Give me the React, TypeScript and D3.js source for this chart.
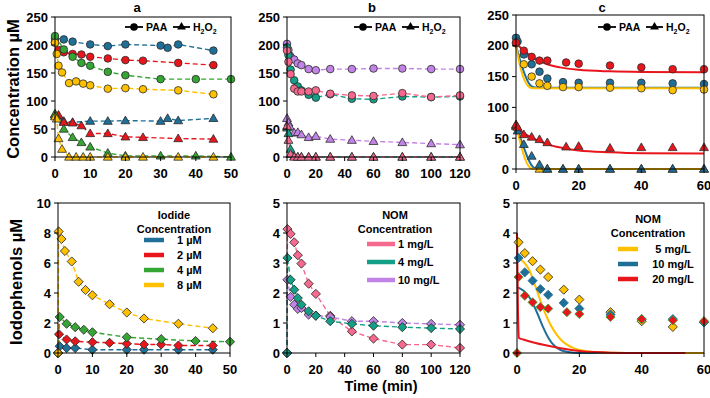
import React from "react";
import * as d3 from "d3";

type Pt = [number, number];

// ---------- Panel a (top): PAA / H2O2 at different iodide doses ----------
const aPaa1: Pt[] = [[0, 212], [2.5, 210], [5, 206], [10, 201], [15, 198], [20, 201], [30, 199], [32, 195], [35, 201], [45, 190]];
const aPaa2: Pt[] = [[0, 205], [1, 191], [2.5, 187], [5, 184], [7.5, 183], [10, 179], [15, 176], [20, 173], [25, 172], [35, 168], [45, 164]];
const aPaa4: Pt[] = [[0, 216], [2.5, 192], [5, 179], [7.5, 168], [10, 163], [15, 152], [20, 146], [30, 139], [40, 139], [50, 139]];
const aPaa8: Pt[] = [[0, 204], [0.5, 184], [1, 163], [2, 151], [4, 132], [6, 135], [8, 131], [10, 128], [15, 122], [20, 123], [25, 121], [35, 119], [45, 112]];
const aH1: Pt[] = [[0, 75], [1, 73], [2.5, 64], [5, 62], [10, 64], [15, 64], [20, 65], [30, 64], [32, 69], [35, 65], [45, 69]];
const aH2: Pt[] = [[0, 76], [1, 75], [2.5, 62], [5, 61], [7.5, 56], [10, 42], [15, 42], [20, 36], [25, 35], [35, 33], [45, 32]];
const aH4: Pt[] = [[0, 77], [2.5, 50], [5, 35], [7.5, 26], [10, 18], [15, 7], [20, 2], [30, 2], [40, 2], [50, 0]];
const aH8: Pt[] = [[0, 72], [0.5, 68], [1, 33], [2, 14], [4, 0], [6, 0], [8, 0], [10, 0], [15, 0], [20, 0], [25, 0], [35, 0], [45, 0]];

// ---------- Panel b (top): PAA / H2O2 at different NOM levels ----------
const bPaa1: Pt[] = [[0, 190], [1, 170], [2.5, 148], [5, 122], [7.5, 117], [10, 117], [15, 117], [20, 119], [30, 113], [45, 110], [60, 109], [80, 114], [100, 107], [120, 110]];
const bPaa4: Pt[] = [[0, 196], [1, 182], [2.5, 156], [5, 137], [7.5, 126], [10, 119], [15, 111], [20, 106], [30, 112], [45, 104], [60, 103], [80, 108], [100, 107], [120, 108]];
const bPaa10: Pt[] = [[0, 202], [1, 191], [2, 181], [3, 177], [5, 174], [7.5, 167], [10, 164], [15, 157], [20, 155], [30, 157], [45, 157], [60, 158], [80, 158], [100, 157], [120, 157]];
const bH1: Pt[] = [[0, 55], [1, 30], [2.5, 5], [5, 0], [7.5, 0], [10, 0], [15, 0], [20, 0], [30, 0], [45, 0], [60, 0], [80, 0], [100, 0], [120, 0]];
const bH4: Pt[] = [[0, 52], [1, 42], [2.5, 14], [5, 1], [7.5, 0], [10, 0], [15, 0], [20, 0], [30, 0], [45, 0], [60, 0], [80, 0], [100, 0], [120, 0]];
const bH10: Pt[] = [[0, 69], [1, 61], [2, 54], [5, 43], [7.5, 44], [10, 40], [15, 35], [20, 37], [30, 32], [45, 30], [60, 28], [80, 26], [100, 24], [120, 22]];

// ---------- Panel c (top): measured points and model curves ----------
const cPaa5: Pt[] = [[0, 204], [2.5, 170], [5, 150], [7.5, 139], [10, 135], [15, 133], [20, 133], [30, 132], [40, 131], [50, 128], [60, 129]];
const cPaa10: Pt[] = [[0, 213], [0.5, 207], [2.5, 186], [5, 170], [7.5, 158], [10, 147], [15, 141], [20, 140], [30, 140], [40, 140], [50, 139], [60, 138]];
const cPaa20: Pt[] = [[0, 205], [2.5, 192], [5, 182], [7.5, 176], [10, 176], [16, 173], [20, 171], [30, 168], [40, 165], [50, 162], [60, 162]];
const cH5: Pt[] = [[0, 69], [7.5, 0], [10, 0], [15, 0], [20, 0], [30, 0], [40, 0], [50, 0], [60, 0]];
const cH10: Pt[] = [[0, 71], [0.5, 62], [2.5, 40], [5, 21], [7.5, 7], [10, 0], [15, 0], [20, 0], [30, 0], [40, 0], [50, 0], [60, 0]];
const cH20: Pt[] = [[0, 72], [0.5, 68], [2.5, 56], [5, 52], [7.5, 48], [10, 43], [16, 36], [20, 37], [30, 34], [40, 35], [50, 35], [60, 35]];
const cFitPaa5: Pt[] = [[0, 200], [1, 174], [2, 154], [3, 141], [4, 134], [5, 131.5], [6, 131], [60, 131]];
const cFitPaa10: Pt[] = [[0, 200], [1, 182], [2, 165], [3, 151], [4, 140], [5, 134], [6, 132.5], [8, 132], [60, 132]];
const cFitPaa20: Pt[] = [[0, 205], [2, 194], [4, 186], [6, 179], [8, 174], [10, 170], [14, 165], [20, 161], [30, 158.5], [40, 157.5], [60, 157]];
const cFitH5: Pt[] = [[0, 70], [1, 50], [2, 31], [3, 15], [4, 5], [5, 0.5], [6, 0], [60, 0]];
const cFitH10: Pt[] = [[0, 70], [1, 56], [2, 42], [3, 28], [4, 15], [5, 6], [6, 1], [7, 0], [60, 0]];
const cFitH20: Pt[] = [[0, 72], [2, 60], [5, 51], [8, 44], [10, 40], [15, 34], [20, 30], [30, 27], [40, 25.5], [60, 25]];

// ---------- Lower row: iodophenols ----------
const dI1: Pt[] = [[0, 0], [0.5, 0.45], [2.5, 0.33], [5, 0.33], [10, 0.22], [20, 0.22], [25, 0.22], [35, 0.22], [45, 0.22]];
const dI2: Pt[] = [[0, 0], [0.3, 1.25], [2.5, 0.9], [5, 0.78], [10, 0.72], [15, 0.68], [20, 0.62], [25, 0.57], [30, 0.57], [35, 0.5], [45, 0.5]];
const dI4: Pt[] = [[0, 0], [0.5, 2.4], [2.5, 1.95], [5, 1.72], [7.5, 1.55], [10, 1.38], [20, 1.05], [30, 0.92], [40, 0.8], [50, 0.75]];
const dI8: Pt[] = [[0, 0], [0.2, 8.1], [1, 7.6], [2, 6.8], [4, 6.1], [6, 4.75], [8, 4.2], [10, 3.85], [15, 3.25], [20, 2.7], [25, 2.3], [35, 1.95], [45, 1.65]];

const eN1: Pt[] = [[0, 0], [0.3, 4.13], [2.5, 3.97], [5, 3.69], [7.5, 3.26], [10, 2.98], [15, 2.31], [20, 1.97], [30, 1.24], [45, 0.72], [60, 0.48], [80, 0.28], [100, 0.28], [120, 0.17]];
const eN4: Pt[] = [[0, 0], [0.3, 3.17], [2.5, 2.44], [5, 2.11], [7.5, 1.83], [10, 1.61], [15, 1.39], [20, 1.24], [30, 1.06], [45, 0.97], [60, 0.91], [80, 0.86], [100, 0.83], [120, 0.8]];
const eN10: Pt[] = [[0, 0], [0.3, 2.44], [2.5, 1.87], [5, 1.61], [7.5, 1.47], [10, 1.5], [15, 1.28], [20, 1.25], [30, 1.2], [45, 1.06], [60, 1.06], [80, 1.0], [100, 0.97], [120, 0.94]];

const fN5: Pt[] = [[0.5, 3.69], [2.5, 3.33], [5, 3.06], [7.5, 2.78], [10, 2.53], [15, 2.11], [20, 1.78], [30, 1.36], [40, 1.06], [50, 0.87], [60, 1.02]];
const fN10: Pt[] = [[0.5, 3.17], [2.5, 2.69], [5, 2.41], [7.5, 2.13], [10, 1.94], [15, 1.67], [20, 1.48], [30, 1.28], [40, 1.13], [50, 1.13], [60, 1.02]];
const fN20: Pt[] = [[0, 0], [0.5, 2.53], [2.5, 1.91], [5, 1.69], [7.5, 1.53], [10, 1.48], [16, 1.36], [20, 1.3], [30, 1.2], [40, 1.13], [50, 1.09], [60, 1.06]];
const fFit5: Pt[] = [[0, 3.15], [2, 3.05], [4, 2.75], [6, 2.2], [8, 1.6], [10, 1.1], [12, 0.72], [14, 0.45], [16, 0.28], [18, 0.17], [20, 0.1], [25, 0.03], [30, 0.01], [40, 0], [60, 0]];
const fFit10: Pt[] = [[0, 2.2], [2, 2.08], [4, 1.85], [6, 1.45], [8, 0.95], [10, 0.52], [12, 0.24], [14, 0.1], [16, 0.04], [20, 0], [60, 0]];
const fFit20: Pt[] = [[0, 4.0], [0.3, 1.5], [0.6, 0.5], [2, 0.45], [5, 0.36], [10, 0.24], [15, 0.14], [20, 0.07], [25, 0.03], [30, 0.01], [40, 0], [54, 0]];

// ---------- Tick values and legend labels ----------
const concTicks = [0, 50, 100, 150, 200, 250];
const iodoTicksA = [0, 2, 4, 6, 8, 10];
const iodoTicksBC = [0, 1, 2, 3, 4, 5];
const timeTicks50 = [0, 10, 20, 30, 40, 50];
const timeTicks120 = [0, 20, 40, 60, 80, 100, 120];
const timeTicks60 = [0, 20, 40, 60];
const iodideLabels = ["1 µM", "2 µM", "4 µM", "8 µM"];
const nomLabelsB = ["1 mg/L", "4 mg/L", "10 mg/L"];
const nomLabelsC = ["5 mg/L", "10 mg/L", "20 mg/L"];

const BLUE = "#1f6f98";
const RED = "#e8161c";
const GREEN = "#35a534";
const GOLD = "#ffc000";
const PINK = "#f6698f";
const TEAL = "#13a086";
const PURPLE = "#c283e6";
const EDGE = "#2b2b2b";
const FONT = "'Liberation Sans', Arial, sans-serif";

type Shape = "circle" | "triangle" | "diamond";
interface Series {
  pts: Pt[];
  color: string;
  shape: Shape;
  dashed?: boolean;
  edge?: string;
}
interface PanelSpec {
  left: number;
  right: number;
  top: number;
  bottom: number;
  xDomain: [number, number];
  yDomain: [number, number];
  xTicks: number[];
  yTicks: number[];
  curves: { pts: Pt[]; color: string }[];
  series: Series[];
}

const triPath = d3.symbol(d3.symbolTriangle, 34)() as string;
const diaPath = d3.symbol(d3.symbolSquare, 42)() as string;

function Marker({ shape, cx, cy, fill, edge }: { shape: Shape; cx: number; cy: number; fill: string; edge: string }) {
  if (shape === "circle") return <circle cx={cx} cy={cy} r={3.8} fill={fill} stroke={edge} strokeWidth={0.8} />;
  if (shape === "triangle")
    return <path d={triPath} transform={`translate(${cx},${cy + 0.6})`} fill={fill} stroke={edge} strokeWidth={0.8} />;
  return <path d={diaPath} transform={`translate(${cx},${cy}) rotate(45)`} fill={fill} stroke={edge} strokeWidth={0.8} />;
}

function Panel({ spec }: { spec: PanelSpec }) {
  const x = d3.scaleLinear().domain(spec.xDomain).range([spec.left, spec.right]);
  const y = d3.scaleLinear().domain(spec.yDomain).range([spec.bottom, spec.top]);
  const straight = d3.line<Pt>().x((d) => x(d[0])).y((d) => y(d[1]));
  const smooth = d3.line<Pt>().x((d) => x(d[0])).y((d) => y(d[1])).curve(d3.curveMonotoneX);
  return (
    <g>
      {spec.series.filter((s) => s.dashed).map((s, i) => (
        <path key={"l" + i} d={straight(s.pts) as string} fill="none" stroke={s.color} strokeWidth={1.4} strokeDasharray="5,3" />
      ))}
      {spec.curves.map((c, i) => (
        <path key={"c" + i} d={smooth(c.pts) as string} fill="none" stroke={c.color} strokeWidth={2} />
      ))}
      {spec.series.map((s, i) =>
        s.pts.map((p, j) => (
          <Marker key={`m${i}-${j}`} shape={s.shape} cx={x(p[0])} cy={y(p[1])} fill={s.color} edge={s.edge ?? EDGE} />
        ))
      )}
      <rect x={spec.left} y={spec.top} width={spec.right - spec.left} height={spec.bottom - spec.top} fill="none" stroke="#000" strokeWidth={1} />
      {spec.xTicks.map((t) => (
        <g key={"x" + t}>
          <line x1={x(t)} x2={x(t)} y1={spec.bottom} y2={spec.bottom + 4} stroke="#000" />
          <text x={x(t)} y={spec.bottom + 21} textAnchor="middle" fontSize={13} fontWeight="bold">{t}</text>
        </g>
      ))}
      {spec.yTicks.map((t) => (
        <g key={"y" + t}>
          <line x1={spec.left - 4} x2={spec.left} y1={y(t)} y2={y(t)} stroke="#000" />
          <text x={spec.left - 7} y={y(t)} dy="0.36em" textAnchor="end" fontSize={13} fontWeight="bold">{t}</text>
        </g>
      ))}
    </g>
  );
}

function SpeciesLegend({ right }: { right: number }) {
  const yy = 27;
  return (
    <g fontSize={10.5} fontWeight="bold">
      <line x1={right - 106} x2={right - 88} y1={yy} y2={yy} stroke="#000" strokeWidth={1.8} />
      <circle cx={right - 97} cy={yy} r={3.8} fill="#000" />
      <text x={right - 85} y={yy} dy="0.36em">PAA</text>
      <line x1={right - 58} x2={right - 41} y1={yy} y2={yy} stroke="#000" strokeWidth={1.8} />
      <path d={triPath} transform={`translate(${right - 49.5},${yy})`} fill="#000" />
      <text x={right - 38} y={yy} dy="0.36em">
        H<tspan fontSize={7} dy={3}>2</tspan>
        <tspan dy={-3}>O</tspan>
        <tspan fontSize={7} dy={3}>2</tspan>
      </text>
    </g>
  );
}

function DoseLegend({ title, cx, ty, x1, x2, tx, anchor, rows, labels, colors }: {
  title: string; cx: number; ty: number; x1: number; x2: number; tx: number; anchor: "start" | "middle";
  rows: number[]; labels: string[]; colors: string[];
}) {
  return (
    <g fontSize={11} fontWeight="bold">
      <text x={cx} y={ty} textAnchor="middle">{title}</text>
      <text x={cx} y={ty + 13.5} textAnchor="middle">Concentration</text>
      {labels.map((l, i) => (
        <g key={l}>
          <line x1={x1} x2={x2} y1={rows[i]} y2={rows[i]} stroke={colors[i]} strokeWidth={4.5} />
          <text x={tx} y={rows[i]} dy="0.36em" textAnchor={anchor}>{l}</text>
        </g>
      ))}
    </g>
  );
}

const panels: PanelSpec[] = [
  {
    left: 55, right: 231, top: 17, bottom: 157, xDomain: [0, 50], yDomain: [0, 250],
    xTicks: timeTicks50, yTicks: concTicks, curves: [],
    series: [
      { pts: aPaa1, color: BLUE, shape: "circle", dashed: true },
      { pts: aPaa2, color: RED, shape: "circle", dashed: true },
      { pts: aPaa4, color: GREEN, shape: "circle", dashed: true },
      { pts: aPaa8, color: GOLD, shape: "circle", dashed: true },
      { pts: aH1, color: BLUE, shape: "triangle", dashed: true },
      { pts: aH2, color: RED, shape: "triangle", dashed: true },
      { pts: aH4, color: GREEN, shape: "triangle", dashed: true },
      { pts: aH8, color: GOLD, shape: "triangle", dashed: true },
    ],
  },
  {
    left: 287, right: 460, top: 17, bottom: 157, xDomain: [0, 120], yDomain: [0, 250],
    xTicks: timeTicks120, yTicks: concTicks, curves: [],
    series: [
      { pts: bPaa10, color: PURPLE, shape: "circle", dashed: true },
      { pts: bPaa4, color: TEAL, shape: "circle", dashed: true },
      { pts: bPaa1, color: PINK, shape: "circle", dashed: true },
      { pts: bH10, color: PURPLE, shape: "triangle", dashed: true },
      { pts: bH4, color: TEAL, shape: "triangle", dashed: true },
      { pts: bH1, color: PINK, shape: "triangle", dashed: true },
    ],
  },
  {
    left: 516, right: 704, top: 15, bottom: 169, xDomain: [0, 60], yDomain: [0, 250],
    xTicks: timeTicks60, yTicks: concTicks,
    curves: [
      { pts: cFitPaa10, color: BLUE }, { pts: cFitPaa5, color: GOLD }, { pts: cFitPaa20, color: RED },
      { pts: cFitH10, color: BLUE }, { pts: cFitH5, color: GOLD }, { pts: cFitH20, color: RED },
    ],
    series: [
      { pts: cPaa10, color: BLUE, shape: "circle" },
      { pts: cPaa5, color: GOLD, shape: "circle" },
      { pts: cPaa20, color: RED, shape: "circle" },
      { pts: cH5, color: GOLD, shape: "triangle" },
      { pts: cH10, color: BLUE, shape: "triangle" },
      { pts: cH20, color: RED, shape: "triangle" },
    ],
  },
  {
    left: 58, right: 230, top: 203, bottom: 353, xDomain: [0, 50], yDomain: [0, 10],
    xTicks: timeTicks50, yTicks: iodoTicksA, curves: [],
    series: [
      { pts: dI1, color: BLUE, shape: "diamond", dashed: true },
      { pts: dI2, color: RED, shape: "diamond", dashed: true },
      { pts: dI4, color: GREEN, shape: "diamond", dashed: true },
      { pts: dI8, color: GOLD, shape: "diamond", dashed: true },
    ],
  },
  {
    left: 287, right: 460, top: 203, bottom: 353, xDomain: [0, 120], yDomain: [0, 5],
    xTicks: timeTicks120, yTicks: iodoTicksBC, curves: [],
    series: [
      { pts: eN1, color: PINK, shape: "diamond", dashed: true },
      { pts: eN10, color: PURPLE, shape: "diamond", dashed: true },
      { pts: eN4, color: TEAL, shape: "diamond", dashed: true },
    ],
  },
  {
    left: 517, right: 704, top: 203, bottom: 353, xDomain: [0, 60], yDomain: [0, 5],
    xTicks: timeTicks60, yTicks: iodoTicksBC,
    curves: [{ pts: fFit10, color: BLUE }, { pts: fFit5, color: GOLD }, { pts: fFit20, color: RED }],
    series: [
      { pts: fN5, color: GOLD, shape: "diamond" },
      { pts: fN10, color: BLUE, shape: "diamond", edge: BLUE },
      { pts: fN20, color: RED, shape: "diamond", edge: GREEN },
    ],
  },
];

export default function App() {
  return (
    <svg width={710} height={398} viewBox="0 0 710 398" style={{ position: "absolute", left: 0, top: 0, background: "#fff" }} fontFamily={FONT}>
      <rect width={710} height={398} fill="#fff" />
      {panels.map((p, i) => <Panel key={i} spec={p} />)}
      <SpeciesLegend right={231} />
      <SpeciesLegend right={460} />
      <SpeciesLegend right={704} />
      <DoseLegend title="Iodide" cx={174} ty={219} x1={144} x2={164} tx={177} anchor="start"
        rows={[240, 255, 270, 285]} labels={iodideLabels} colors={[BLUE, RED, GREEN, GOLD]} />
      <DoseLegend title="NOM" cx={395} ty={219} x1={367} x2={395} tx={398} anchor="start"
        rows={[244, 262, 280]} labels={nomLabelsB} colors={[PINK, TEAL, PURPLE]} />
      <DoseLegend title="NOM" cx={648} ty={223} x1={618} x2={638} tx={673} anchor="middle"
        rows={[249, 264, 279]} labels={nomLabelsC} colors={[GOLD, BLUE, RED]} />
      <g fontSize={13} fontWeight="bold" textAnchor="middle">
        <text x={137} y={12}>a</text>
        <text x={372} y={12}>b</text>
        <text x={602} y={12}>c</text>
      </g>
      <g fontSize={16.5} fontWeight="bold" textAnchor="middle">
        <text transform="translate(19,89) rotate(-90)">Concentration µM</text>
        <text transform="translate(22,282) rotate(-90)">Iodophenols µM</text>
        <text x={381} y={391} fontSize={14.5}>Time (min)</text>
      </g>
    </svg>
  );
}
